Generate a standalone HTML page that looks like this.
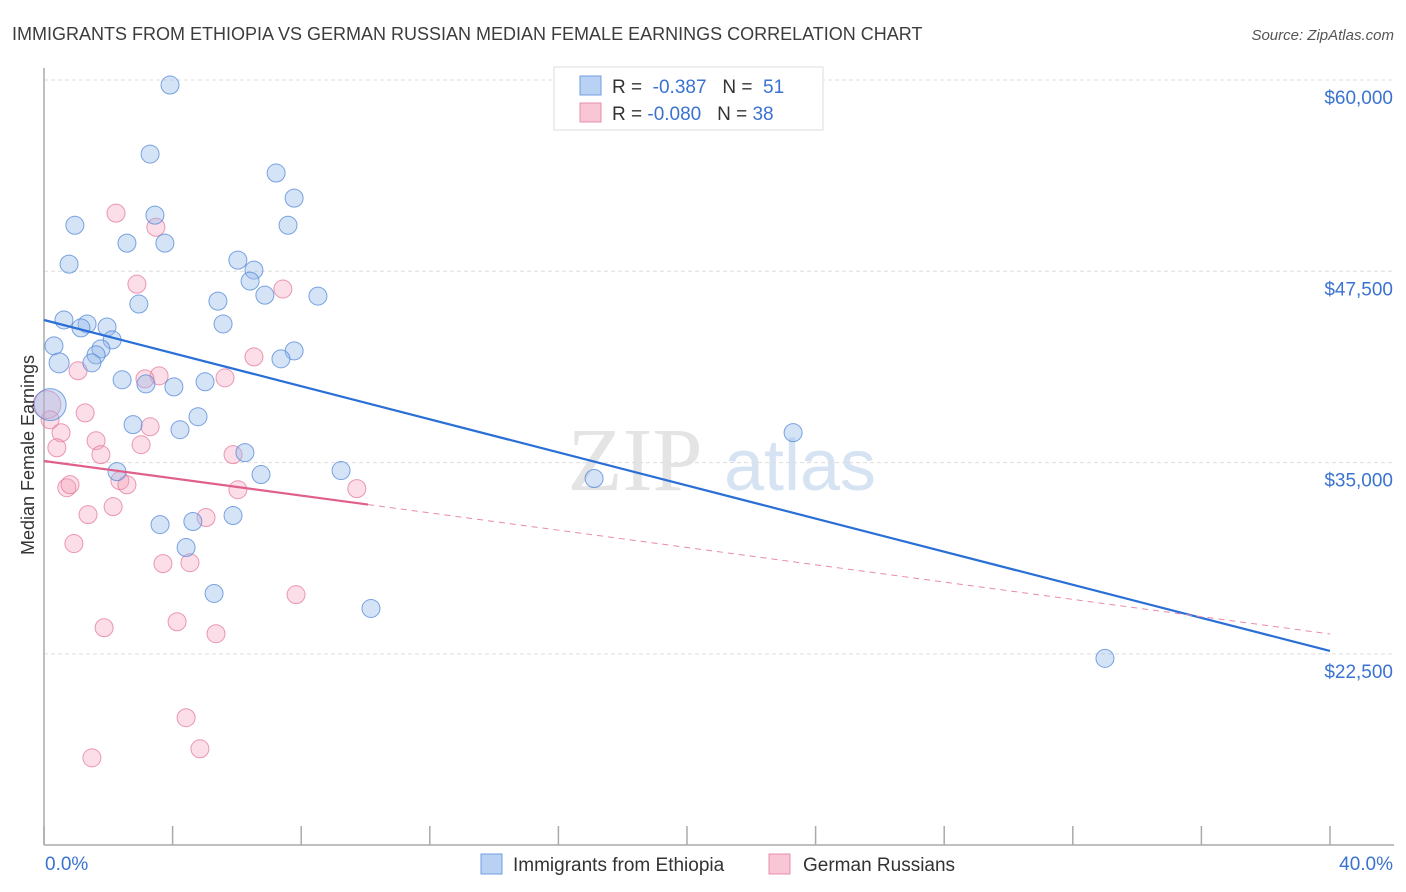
<!DOCTYPE html>
<html><head><meta charset="utf-8"><style>
body{margin:0;background:#fff;font-family:"Liberation Sans",sans-serif}
svg{display:block}
</style></head><body>
<svg id="chart" width="1406" height="892" viewBox="0 0 1406 892">
<text x="12" y="40" font-size="18" fill="#3c3c3c">IMMIGRANTS FROM ETHIOPIA VS GERMAN RUSSIAN MEDIAN FEMALE EARNINGS CORRELATION CHART</text>
<text x="1394" y="40" font-size="15" fill="#555" font-style="italic" text-anchor="end">Source: ZipAtlas.com</text>
<g><text x="635" y="490" font-size="90" font-family="Liberation Serif,serif" fill="#e4e4e4" text-anchor="middle">ZIP</text><text x="800" y="490" font-size="72" fill="#d6e3f3" text-anchor="middle">atlas</text></g>
<g id="grid"></g><g id="axes"></g><g id="pts"></g><g id="lines"></g>
<text transform="translate(34,455) rotate(-90)" font-size="18" fill="#333" text-anchor="middle">Median Female Earnings</text>
<g>
<rect x="554" y="67" width="269" height="63" fill="#fff" stroke="#ddd"/>
<rect x="580" y="76" width="21" height="19" fill="#b9d2f3" stroke="#6f9ee0"/>
<rect x="580" y="103" width="21" height="19" fill="#f8c6d4" stroke="#e88fab"/>
<text x="612" y="93" font-size="19" fill="#333">R = <tspan fill="#3a73d0">&#160;-0.387</tspan>&#160;&#160;&#160;N = <tspan fill="#3a73d0">&#160;51</tspan></text>
<text x="612" y="120" font-size="19" fill="#333">R = <tspan fill="#3a73d0">-0.080</tspan>&#160;&#160;&#160;N = <tspan fill="#3a73d0">38</tspan></text>
</g>
<g>
<rect x="481" y="854" width="21" height="20" fill="#b9d2f3" stroke="#6f9ee0"/>
<text x="513" y="871" font-size="19" fill="#333">Immigrants from Ethiopia</text>
<rect x="769" y="854" width="21" height="20" fill="#f8c6d4" stroke="#e88fab"/>
<text x="803" y="871" font-size="19" fill="#333">German Russians</text>
</g>
</svg>
<script>
const yTicks=[60000,47500,35000,22500];
const yTickLabels=["$60,000","$47,500","$35,000","$22,500"];
const xTickVals=[0,4,8,12,16,20,24,28,32,36,40];
const xEndLabels=["0.0%","40.0%"];
const blueX=[3.92,3.3,7.22,7.78,3.45,0.96,7.59,2.58,3.76,0.78,6.03,6.53,6.41,6.87,8.52,2.95,5.41,0.62,1.34,1.15,1.96,5.57,2.12,0.31,1.77,1.62,0.47,1.49,7.78,7.37,2.43,3.17,4.04,5.01,0.19,4.79,2.77,4.23,6.25,2.27,6.75,9.24,17.11,23.3,4.63,3.61,5.88,4.42,5.29,10.17,33.0];
const blueY=[59670,55160,53920,52280,51170,50510,50510,49340,49340,47970,48230,47580,46860,45940,45880,45360,45550,44320,44060,43800,43860,44060,43020,42630,42430,42040,41520,41520,42300,41780,40410,40140,39950,40280,38790,38000,37480,37150,35650,34410,34220,34480,33960,36960,31150,30950,31540,29450,26450,25470,22210];
const blueR=[9,9,9,9,9,9,9,9,9,9,9,9,9,9,9,9,9,9,9,9,9,9,9,9,9,9,10,9,9,9,9,9,9,9,16,9,9,9,9,9,9,9,9,9,9,9,9,9,9,9,9];
const pinkX=[2.24,3.48,2.89,7.43,6.53,5.63,1.06,3.58,3.14,1.28,3.3,0.53,1.62,0.40,3.02,1.77,5.88,2.36,2.58,0.71,0.81,6.03,9.73,2.15,1.37,5.04,0.93,3.7,4.54,7.84,4.14,1.87,5.35,4.42,4.85,1.49,0.09,0.19];
const pinkY=[51300,50380,46660,46340,41910,40540,41000,40670,40470,38250,37340,36950,36430,35970,36170,35520,35520,33820,33550,33360,33560,33230,33300,32120,31600,31410,29710,28400,28460,26370,24600,24210,23820,18330,16300,15710,38790,37800];
const pinkR=[9,9,9,9,9,9,9,9,9,9,9,9,9,9,9,9,9,9,9,9,9,9,9,9,9,9,9,9,9,9,9,9,9,9,9,9,14,9];
const blueFit=[44318,22690];
const pinkFit=[35105,23802];
const pinkSolidEnd=10.08;
const NS="http://www.w3.org/2000/svg";
const X0=44,X1=1330,YB=845;
function sx(v){return X0+v/40*(X1-X0);}
function sy(v){return 80+(60000-v)*191.3/12500;}
function mk(tag,attrs,parent){const e=document.createElementNS(NS,tag);for(const k in attrs)e.setAttribute(k,attrs[k]);document.getElementById(parent).appendChild(e);return e;}
yTicks.forEach((t,i)=>{
 const g=mk('line',{x1:X0,x2:1394,y1:sy(t),y2:sy(t),stroke:'#ddd','stroke-dasharray':'4,3'},'grid');
 
 
 const l=mk('text',{x:1393,y:sy(t)+24,'font-size':19,fill:'#3a73d0','text-anchor':'end'},'grid');
 l.textContent=yTickLabels[i];
 
 
});
const ya=mk('line',{x1:X0,x2:X0,y1:68,y2:YB,stroke:'#aaa','stroke-width':1.5},'axes');


const xa=mk('line',{x1:X0,x2:1394,y1:YB,y2:YB,stroke:'#aaa','stroke-width':1.5},'axes');


xTickVals.forEach(v=>{
 const t=mk('line',{x1:sx(v),x2:sx(v),y1:826,y2:YB,stroke:'#aaa','stroke-width':1.5},'axes');
 
 
});
const xl0=mk('text',{x:X0+1,y:870,'font-size':19,fill:'#3a73d0'},'axes');xl0.textContent=xEndLabels[0];


const xl1=mk('text',{x:1393,y:870,'font-size':19,fill:'#3a73d0','text-anchor':'end'},'axes');xl1.textContent=xEndLabels[1];


pinkX.forEach((x,i)=>{
 const c=mk('circle',{cx:sx(x),cy:sy(pinkY[i]),r:pinkR[i],fill:'rgba(244,160,185,0.35)',stroke:'rgba(228,120,155,0.75)','stroke-width':1},'pts');
 
 
});
blueX.forEach((x,i)=>{
 const c=mk('circle',{cx:sx(x),cy:sy(blueY[i]),r:blueR[i],fill:'rgba(150,185,235,0.4)',stroke:'rgba(80,135,215,0.75)','stroke-width':1},'pts');
 
 
});
const bl=mk('line',{x1:sx(0),y1:sy(blueFit[0]),x2:sx(40),y2:sy(blueFit[1]),stroke:'#2a6fd6','stroke-width':2.2},'lines');


const pAt=x=>pinkFit[0]+(pinkFit[1]-pinkFit[0])*x/40;
const pl=mk('line',{x1:sx(0),y1:sy(pinkFit[0]),x2:sx(pinkSolidEnd),y2:sy(pAt(pinkSolidEnd)),stroke:'#e0608c','stroke-width':2.2},'lines');


const pd=mk('line',{x1:sx(pinkSolidEnd),y1:sy(pAt(pinkSolidEnd)),x2:sx(40),y2:sy(pinkFit[1]),stroke:'#e88aab','stroke-width':1,'stroke-dasharray':'6,5'},'lines');


</script>
</body></html>
